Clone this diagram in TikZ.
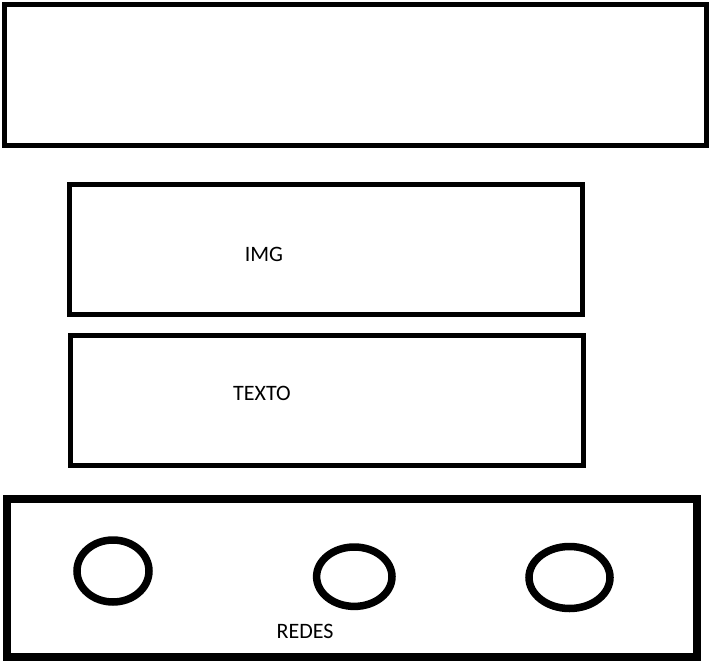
\documentclass[tikz,border=0pt]{standalone}
\usepackage{fontspec}
\setmainfont{Carlito}
\begin{document}
\begin{tikzpicture}[x=1pt,y=-1pt]
	\useasboundingbox (0,0) rectangle (709,666);
	\draw[line width=5pt] (4.5,4.5) rectangle (706.5,145);
	\draw[line width=5pt] (69.5,184) rectangle (582.5,314);
	\draw[line width=5pt] (70.5,335) rectangle (583.5,465);
	\draw[line width=8pt] (6.8,499) rectangle (696.5,657);
	\draw[line width=7.5pt] (113,571) ellipse [x radius=36pt, y radius=31pt];
	\draw[line width=7.5pt] (354.3,576.7) ellipse [x radius=37.7pt, y radius=29.7pt];
	\draw[line width=7.5pt] (569.5,577.5) ellipse [x radius=40.5pt, y radius=31pt];
	\node[anchor=center] (img) at (264,254)
		{\fontsize{22}{26}\selectfont IMG};
	\node[anchor=center] (texto) at (262,393)
		{\fontsize{22}{26}\selectfont TEXTO};
	\node[anchor=center] (redes) at (305,631)
		{\fontsize{22}{26}\selectfont REDES};
\end{tikzpicture}
\end{document}
